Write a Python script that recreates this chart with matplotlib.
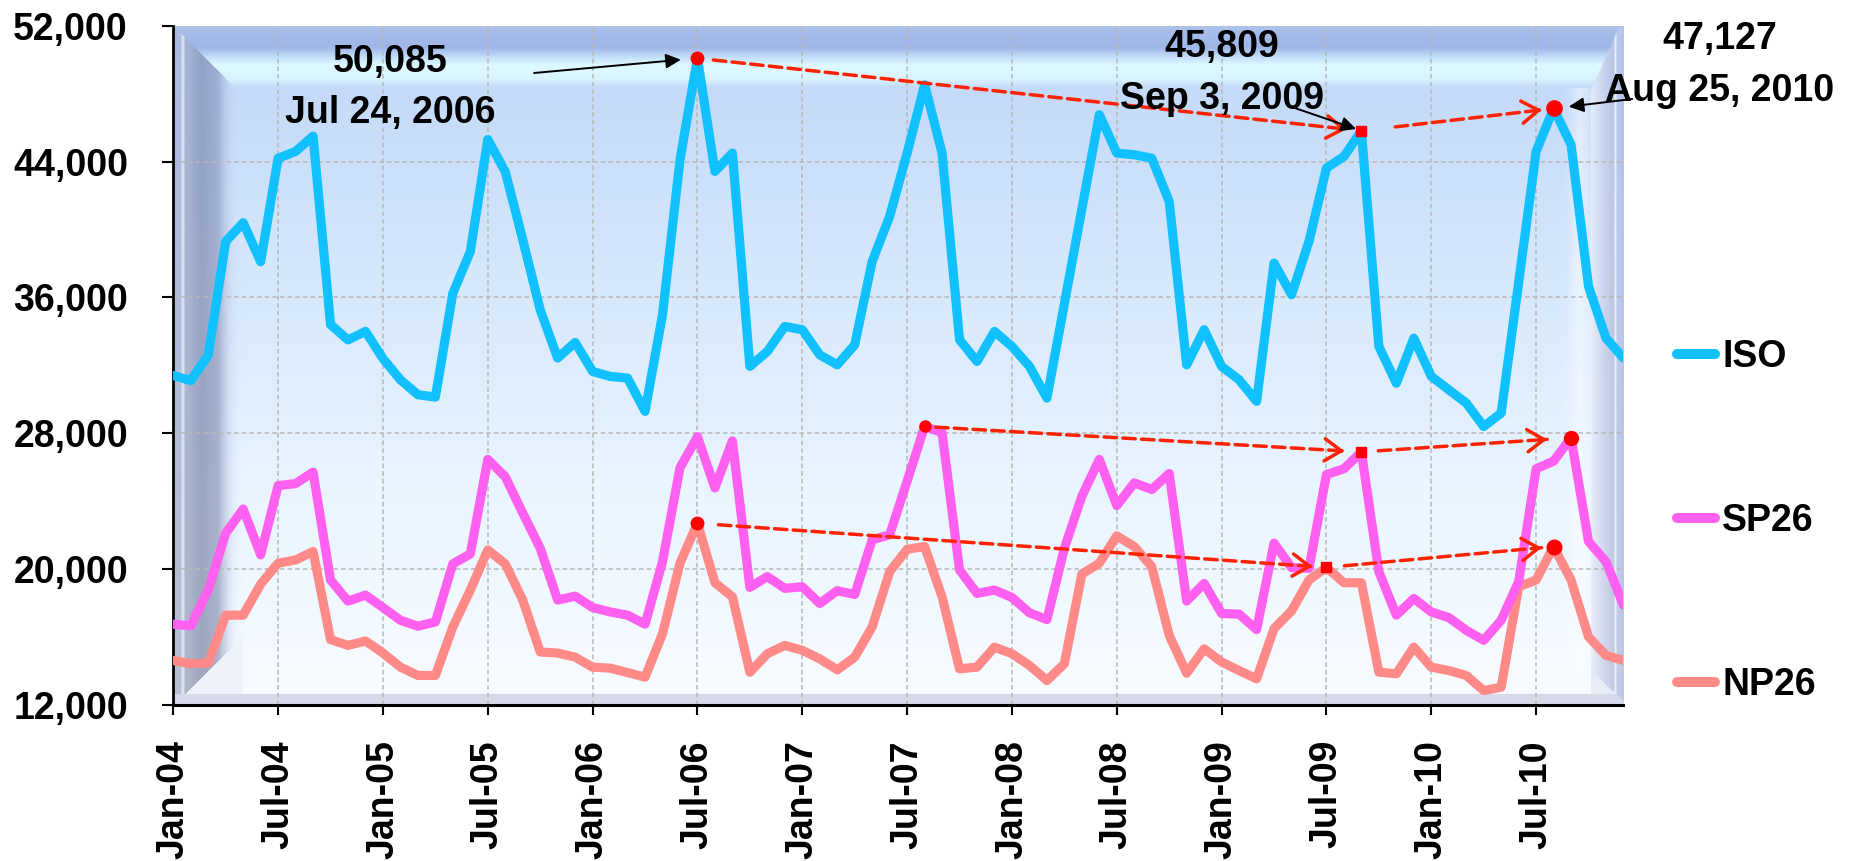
import numpy as np
import pandas as pd
import matplotlib
matplotlib.use("Agg")
import matplotlib.pyplot as plt

plt.rcParams["font.family"] = ["Liberation Sans", "DejaVu Sans"]
plt.rcParams["font.weight"] = "bold"

# monthly peak loads, Jan-2004 .. Dec-2010
months = pd.date_range("2004-01-01", periods=84, freq="MS")

iso = [31400, 31100, 32600, 39300, 40400, 38100, 44200, 44600, 45500, 34400, 33500, 34000,
       32400, 31150, 30270, 30130, 36250, 38700, 45300, 43400, 39400, 35270, 32430, 33350,
       31640, 31350, 31250, 29290, 34980, 44100, 50085, 43420, 44500, 31940, 32820, 34290,
       34100, 32620, 32030, 33210, 38120, 40770, 44500, 48520, 44500, 33510, 32230, 34000,
       33110, 31940, 30070, 35630, 41200, 46760, 44500, 44400, 44200, 41650, 32030, 34100,
       31940, 31150, 29880, 38020, 36160, 39300, 43620, 44300, 45809, 33110, 30950, 33600,
       31350, 30560, 29780, 28400, 29190, 36880, 44600, 47127, 44990, 36650, 33600, 32430]

sp26 = [16760, 16660, 18770, 22120, 23540, 20840, 24920, 25040, 25710, 19360, 18120, 18470,
        17740, 16990, 16640, 16890, 20310, 20900, 26460, 25440, 23300, 21230, 18180, 18410,
        17740, 17480, 17290, 16760, 20440, 25970, 27800, 24780, 27550, 18930, 19560, 18870,
        18960, 17980, 18730, 18510, 21730, 22020, 25180, 28400, 28040, 19950, 18570, 18770,
        18330, 17430, 17030, 21230, 24290, 26460, 23740, 25080, 24690, 25630, 18120, 19160,
        17390, 17350, 16440, 21530, 20090, 20050, 25570, 25910, 26900, 19850, 17290, 18270,
        17480, 17150, 16400, 15810, 16990, 19260, 25910, 26360, 27740, 21630, 20440, 17880]

np26 = [14620, 14430, 14470, 17290, 17290, 19120, 20350, 20540, 21040, 15850, 15510, 15770,
        15060, 14230, 13740, 13740, 16600, 18770, 21130, 20310, 18180, 15120, 15060, 14820,
        14230, 14170, 13910, 13640, 16200, 20350, 22700, 19200, 18370, 13930, 15020, 15510,
        15220, 14720, 14070, 14820, 16600, 19850, 21170, 21330, 18370, 14130, 14230, 15410,
        15020, 14330, 13440, 14430, 19710, 20350, 21960, 21330, 20150, 16100, 13870, 15310,
        14530, 14030, 13540, 16500, 17540, 19360, 20100, 19200, 19200, 13930, 13840, 15410,
        14230, 14030, 13740, 12850, 13050, 18960, 19360, 21330, 19360, 16010, 14920, 14620]

# month index of the three highlighted peaks per zone
iso_peaks = [30, 68, 79]
sp_peaks = [43, 68, 80]
np_peaks = [30, 66, 79]
peak_dates = ["Jul 24, 2006", "Sep 3, 2009", "Aug 25, 2010"]

x = np.arange(len(months))
iso, sp26, np26 = np.array(iso), np.array(sp26), np.array(np26)

fig = plt.figure(figsize=(18.64, 8.61), dpi=100)
ax = fig.add_axes([0.09297, 0.18118, 0.7780, 0.78897])

# bevelled plot-area fill
H, W = 680, 1450
vv, uu = np.mgrid[0:H, 0:W].astype(float)


def grad(t, stops):
    pos = [p for p, c in stops]
    return np.stack([np.interp(t, pos, [c[i] for p, c in stops]) for i in range(3)], axis=-1)


bg = grad(vv, [(0, (178, 200, 240)), (7, (166, 188, 234)), (22, (160, 182, 232)),
               (32, (196, 224, 250)), (40, (222, 250, 255)), (54, (218, 244, 255)),
               (62, (196, 218, 248)), (250, (214, 232, 252)), (450, (232, 244, 255)),
               (679, (248, 252, 255))])

t = (vv / H)[..., None]
left_c = (grad(uu, [(0, (168, 184, 222)), (7, (176, 192, 228)), (9.5, (226, 234, 248)),
                    (12, (166, 180, 214)), (28, (146, 162, 200)), (44, (160, 176, 214)),
                    (56, (190, 206, 240)), (64, (200, 220, 248))]) * (1 - t)
          + grad(uu, [(0, (180, 188, 208)), (7, (186, 194, 212)), (9.5, (232, 236, 244)),
                      (12, (176, 184, 204)), (28, (160, 168, 190)), (44, (172, 180, 202)),
                      (56, (214, 222, 240)), (64, (236, 244, 252))]) * t)
w = np.clip((70 - uu) / 24, 0, 1)[..., None]
left_c = left_c * w + bg * (1 - w)
m_left = (uu < 70) & (vv > uu) & (vv < 681 - uu)
bg[m_left] = left_c[m_left]
m_bl = (uu < 70) & (vv >= 681 - uu)
bg[m_bl] = (238, 242, 250)

hl = np.exp(-((uu - 1406) / 10) ** 2)[..., None] * ((vv > 62) & (vv < 650))[..., None]
bg = bg + (255 - bg) * 0.45 * hl

right_c = (grad(uu, [(1417, (226, 236, 252)), (1430, (198, 210, 238)), (1439, (184, 198, 230)),
                     (1441, (232, 238, 250)), (1443, (186, 202, 238)), (1450, (178, 196, 236))]) * (1 - t)
           + grad(uu, [(1417, (236, 240, 250)), (1430, (210, 216, 236)), (1439, (196, 204, 226)),
                       (1441, (236, 240, 248)), (1443, (196, 206, 232)), (1450, (190, 200, 228))]) * t)
m_right = (uu >= 1417) & (vv > 64 - 2.26 * (uu - 1417)) & (vv < 647 + 0.95 * (uu - 1419))
bg[m_right] = right_c[m_right]
m_br = (uu >= 1417) & (vv >= 647 + 0.95 * (uu - 1419))
bg[m_br] = (232, 236, 248)
bg[(vv > 668) & ~m_right] = (214, 218, 232)

ax.imshow(bg.astype(np.uint8), extent=(0, 1, 0, 1), transform=ax.transAxes,
          aspect="auto", zorder=0, interpolation="bilinear")

lw = 6.6
l_iso, = ax.plot(x, iso, color="#10c0ff", lw=lw, label="ISO", zorder=3,
                 solid_capstyle="round", solid_joinstyle="round")
l_np, = ax.plot(x, np26, color="#ff8a88", lw=lw, label="NP26", zorder=3,
                solid_capstyle="round", solid_joinstyle="round")
l_sp, = ax.plot(x, sp26, color="#ff60f0", lw=lw, label="SP26", zorder=3.2,
                solid_capstyle="round", solid_joinstyle="round")

ax.set_xlim(0, 83)
ax.set_ylim(12000, 52000)

red = "#ff2200"
inv = ax.transData.inverted()


def red_arrow(i0, y0, i1, y1, gap0, gap1):
    p0 = ax.transData.transform((i0, y0))
    p1 = ax.transData.transform((i1, y1))
    d = (p1 - p0) / np.hypot(*(p1 - p0))
    a = inv.transform(p0 + d * gap0)
    b = inv.transform(p1 - d * gap1)
    b0 = inv.transform(p1 - d * (gap1 + 3))
    ax.annotate("", xy=b, xytext=a, zorder=4,
                arrowprops=dict(arrowstyle="-", color=red, lw=2.5, ls=(0, (3.6, 1.8)),
                                shrinkA=0, shrinkB=0))
    ax.annotate("", xy=b, xytext=b0, zorder=4,
                arrowprops=dict(arrowstyle="->,head_length=0.6,head_width=0.4", color=red,
                                lw=2.5, shrinkA=0, shrinkB=0, mutation_scale=20))


def peaks(series, idx, sizes, gaps):
    vals = series[idx]
    for (k0, k1), (g0, g1) in zip(zip(idx[:-1], idx[1:]), gaps):
        red_arrow(k0, series[k0], k1, series[k1], g0, g1)
    for k, v, (mk, ms) in zip(idx, vals, sizes):
        ax.plot(k, v, marker=mk, ms=ms, color="#ff0000", mec="#ff0000", zorder=5, clip_on=False)


peaks(iso, iso_peaks, [("o", 9), ("s", 7), ("o", 11)], [(16, 15), (34, 12)])
peaks(sp26, sp_peaks, [("o", 8), ("s", 7.5), ("o", 10)], [(11, 17), (17, 24)])
peaks(np26, np_peaks, [("o", 9), ("s", 7.5), ("o", 10.5)], [(21, 14), (18, 12)])

# call-outs for the ISO peaks
label_pos = [(12.4, 48360), (60.0, 49215), (88.5, 49690)]
arrow_from = [(20.65, 49215), (63.86, 47270), (83.5, 47684)]
arrow_gap = [12, 4, 11]
for k, date, (tx, ty), (ax0, ay0), g in zip(iso_peaks, peak_dates, label_pos, arrow_from, arrow_gap):
    ax.text(tx, ty, f"{iso[k]:,}\n{date}", ha="center", va="center", fontsize=27,
            linespacing=1.55, clip_on=False, zorder=6)
    ax.annotate("", xy=(k, iso[k]), xytext=(ax0, ay0), annotation_clip=False, zorder=6,
                arrowprops=dict(arrowstyle="-|>,head_length=0.45,head_width=0.22", color="black",
                                lw=1.4, shrinkA=0, shrinkB=g, mutation_scale=20))

# axes styling
ax.set_axisbelow(True)
ax.grid(True, color="#b8b8b8", ls=(0, (3, 2)), lw=1.1)
ax.set_yticks(np.arange(12000, 52001, 8000))
ax.set_yticklabels([f"{v:,}" for v in np.arange(12000, 52001, 8000)])
ax.set_xticks(x[::6])
ax.set_xticklabels(months[::6].strftime("%b-%y"), rotation=90)
ax.tick_params(axis="y", length=7.7, width=1.5, pad=25, labelsize=27)
ax.tick_params(axis="x", length=7.2, width=1.5, pad=18, labelsize=27)
for s in ("top", "right"):
    ax.spines[s].set_visible(False)
ax.spines["left"].set_linewidth(2.0)
ax.spines["bottom"].set_linewidth(2.2)

leg = ax.legend(handles=[l_iso, l_sp, l_np], loc="center left", bbox_to_anchor=(1.0369, 0.2709),
                frameon=False, borderpad=0, borderaxespad=0, handlelength=1.0,
                handletextpad=0.2, labelspacing=3.42, fontsize=27)
for h in leg.legend_handles:
    h.set_linewidth(7.2)

fig.savefig("out.png", dpi=100)
